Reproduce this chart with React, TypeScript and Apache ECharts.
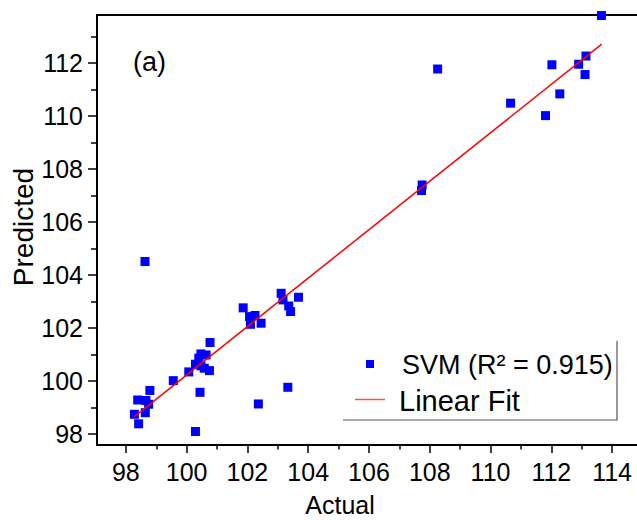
import { useEffect, useRef } from "react";
import * as echarts from "echarts";

// Data
const actual = [
  113.65, 113.14, 112.9, 113.11, 112.02, 112.28, 111.81, 108.26, 110.66, 107.75, 107.73,
  98.63, 103.11, 103.17, 103.68, 103.36, 103.42, 101.86, 102.07, 102.25, 102.1, 102.45,
  100.77, 100.47, 100.64, 100.4, 100.29, 100.47, 100.58, 100.75, 100.07, 99.56, 98.79,
  98.39, 98.66, 98.75, 98.64, 98.28, 98.42, 100.29, 100.44, 102.36, 103.33,
];
const predicted = [
  113.8, 112.27, 111.96, 111.57, 111.94, 110.84, 110.02, 111.78, 110.49, 107.4, 107.19,
  104.51, 103.31, 103.06, 103.16, 102.83, 102.62, 102.76, 102.43, 102.47, 102.14, 102.18,
  101.45, 101.02, 100.98, 100.86, 100.63, 100.57, 100.48, 100.39, 100.34, 100.01, 99.64,
  99.28, 99.26, 99.12, 98.8, 98.74, 98.38, 98.09, 99.57, 99.13, 99.76,
];
const fitActual = [98.28, 113.66];
const fitPredicted = [98.65, 112.72];

const xMajorTicks = [98, 100, 102, 104, 106, 108, 110, 112, 114];
const xMinorTicks = [99, 101, 103, 105, 107, 109, 111, 113];
const yMajorTicks = [98, 100, 102, 104, 106, 108, 110, 112];
const yMinorTicks = [99, 101, 103, 105, 107, 109, 111, 113];

const xTitle = "Actual";
const yTitle = "Predicted";
const panelLabel = "(a)";
const legendLabels = ["SVM (R² = 0.915)", "Linear Fit"];

const FONT = "'Liberation Sans', Arial, sans-serif";
const X_MIN = 97.05;
const X_MAX = 114.82;
const Y_MIN = 97.58;
const Y_MAX = 113.82;

export default function App() {
  const ref = useRef<HTMLDivElement>(null);

  useEffect(() => {
    if (!ref.current) return;
    const chart = echarts.init(ref.current, null, { renderer: "svg" });

    const axisLine = { show: true, lineStyle: { color: "#000", width: 2 } };
    const tickStyle = { color: "#000", width: 1.5 };

    const scatterData = actual.map((a, i) => [a, predicted[i]]);
    const fitData = fitActual.map((a, i) => [a, fitPredicted[i]]);

    chart.setOption({
      animation: false,
      backgroundColor: "#fff",
      grid: { left: 97, top: 15, right: 0, bottom: 75, containLabel: false },
      xAxis: [
        {
          type: "value",
          min: X_MIN,
          max: X_MAX,
          position: "bottom",
          axisLine,
          axisTick: { show: true, customValues: xMajorTicks, length: 8, lineStyle: tickStyle },
          axisLabel: {
            customValues: xMajorTicks,
            margin: 14,
            fontSize: 25,
            color: "#000",
            fontFamily: FONT,
          },
          splitLine: { show: false },
        },
        {
          type: "value",
          min: X_MIN,
          max: X_MAX,
          position: "bottom",
          offset: 0,
          axisLine: { show: false },
          axisTick: { show: true, customValues: xMinorTicks, length: 4.5, lineStyle: tickStyle },
          axisLabel: { show: false },
          splitLine: { show: false },
        },
        {
          type: "value",
          min: X_MIN,
          max: X_MAX,
          position: "top",
          axisLine,
          axisTick: { show: false },
          axisLabel: { show: false },
          splitLine: { show: false },
        },
      ],
      yAxis: [
        {
          type: "value",
          min: Y_MIN,
          max: Y_MAX,
          position: "left",
          axisLine,
          axisTick: { show: true, customValues: yMajorTicks, length: 9, lineStyle: tickStyle },
          axisLabel: {
            customValues: yMajorTicks,
            margin: 14,
            fontSize: 25,
            color: "#000",
            fontFamily: FONT,
          },
          splitLine: { show: false },
        },
        {
          type: "value",
          min: Y_MIN,
          max: Y_MAX,
          position: "left",
          offset: 0,
          axisLine: { show: false },
          axisTick: { show: true, customValues: yMinorTicks, length: 6, lineStyle: tickStyle },
          axisLabel: { show: false },
          splitLine: { show: false },
        },
      ],
      series: [
        {
          type: "scatter",
          name: legendLabels[0],
          xAxisIndex: 0,
          yAxisIndex: 0,
          symbol: "rect",
          symbolSize: 9,
          itemStyle: { color: "#0000ff", opacity: 1 },
          data: scatterData,
          z: 3,
        },
        {
          type: "line",
          name: legendLabels[1],
          xAxisIndex: 0,
          yAxisIndex: 0,
          showSymbol: false,
          symbol: "none",
          lineStyle: { color: "#ff0000", width: 1.5 },
          data: fitData,
          z: 4,
        },
      ],
      graphic: [
        {
          type: "text",
          left: 133,
          top: 48,
          style: { text: panelLabel, fontSize: 27, fontFamily: FONT, fill: "#000" },
        },
        {
          type: "text",
          x: 340,
          y: 505,
          style: {
            text: xTitle,
            fontSize: 25,
            fontFamily: FONT,
            fill: "#000",
            textAlign: "center",
            textVerticalAlign: "middle",
          },
        },
        {
          type: "text",
          x: 23,
          y: 227,
          rotation: Math.PI / 2,
          style: {
            text: yTitle,
            fontSize: 28,
            fontFamily: FONT,
            fill: "#000",
            textAlign: "center",
            textVerticalAlign: "middle",
          },
        },
        // legend frame (right and bottom edges)
        {
          type: "polyline",
          shape: { points: [[617, 341], [617, 420], [343, 420]] },
          style: { stroke: "#555", lineWidth: 1.2, fill: null },
        },
        {
          type: "rect",
          shape: { x: 366, y: 360, width: 8, height: 8 },
          style: { fill: "#0000ff" },
        },
        {
          type: "text",
          x: 402,
          y: 365,
          style: {
            text: legendLabels[0],
            fontSize: 27,
            fontFamily: FONT,
            fill: "#000",
            textVerticalAlign: "middle",
          },
        },
        {
          type: "line",
          shape: { x1: 355, y1: 399.5, x2: 385, y2: 399.5 },
          style: { stroke: "#ff0000", lineWidth: 1.5, opacity: 0.7 },
        },
        {
          type: "text",
          x: 399,
          y: 401,
          style: {
            text: legendLabels[1],
            fontSize: 29,
            fontFamily: FONT,
            fill: "#000",
            textVerticalAlign: "middle",
          },
        },
      ],
    });

    return () => chart.dispose();
  }, []);

  return (
    <div
      ref={ref}
      style={{ position: "absolute", left: 0, top: 0, width: 637, height: 520 }}
    />
  );
}
